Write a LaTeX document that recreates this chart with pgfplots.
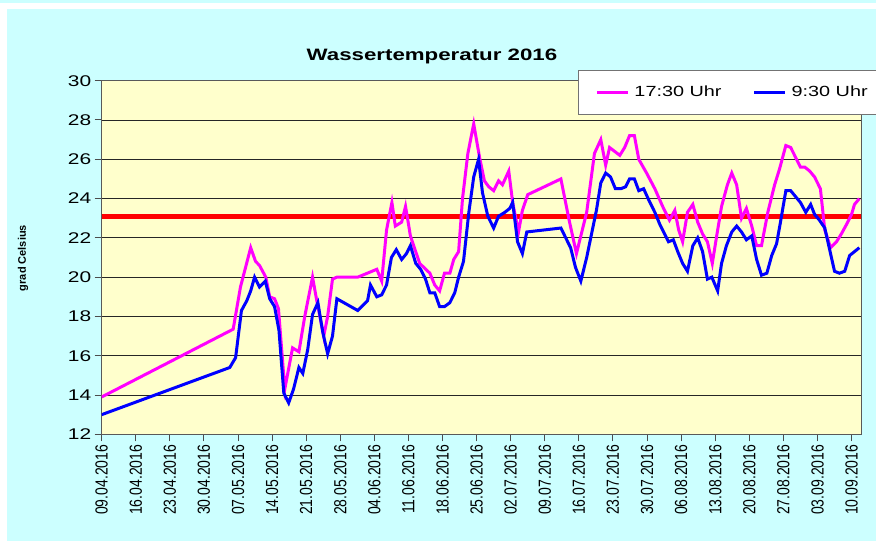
\documentclass[border=0pt]{standalone}
\usepackage{pgfplots}
\pgfplotsset{compat=1.18}
\usepackage{fontspec}
\setmainfont{Liberation Sans}
\definecolor{bgcyan}{HTML}{CCFFFF}
\definecolor{plotyellow}{HTML}{FFFFCC}
\definecolor{pinkline}{HTML}{FF00FF}
\definecolor{blueline}{HTML}{0000FF}
\newcommand\xl[1]{\scalebox{1}[1.25]{#1}}
\newcommand\sx[1]{\scalebox{1.35}[1]{#1}}
\begin{document}
\begin{tikzpicture}[x=1pt,y=1pt]
\useasboundingbox (0,0) rectangle (876,541);
\fill[white] (0,0) rectangle (876,541);
\fill[bgcyan] (7,0) rectangle (876,532);
\fill[bgcyan] (0,538) rectangle (876,541);
\begin{axis}[
  at={(101.7pt,106.7pt)}, anchor=south west,
  scale only axis, width=759.6pt, height=353.6pt,
  xmin=0, xmax=156, ymin=12, ymax=30,
  axis background/.style={fill=plotyellow},
  axis line style={draw=black!65, line width=1pt},
  ytick={12,14,...,30},
  xtick={0,7,...,154},
  xticklabels={\xl{09.04.2016},\xl{16.04.2016},\xl{23.04.2016},\xl{30.04.2016},\xl{07.05.2016},\xl{14.05.2016},\xl{21.05.2016},\xl{28.05.2016},\xl{04.06.2016},\xl{11.06.2016},\xl{18.06.2016},\xl{25.06.2016},\xl{02.07.2016},\xl{09.07.2016},\xl{16.07.2016},\xl{23.07.2016},\xl{30.07.2016},\xl{06.08.2016},\xl{13.08.2016},\xl{20.08.2016},\xl{27.08.2016},\xl{03.09.2016},\xl{10.09.2016}},
  /pgf/number format/assume math mode=true,
  yticklabel={\sx{\pgfmathprintnumber{\tick}}},
  tick align=outside, major tick length=7pt,
  tick style={black!70, line width=1pt},
  xtick pos=bottom, ytick pos=left,
  yticklabel style={font=\fontsize{15.5}{18}\selectfont},
  xticklabel style={rotate=90, anchor=east, font=\fontsize{14}{16}\selectfont},
  ymajorgrids, major grid style={black!85, line width=0.9pt},
  title={\sx{Wassertemperatur 2016}},
  title style={at={(axis description cs:0.4348,1.0529)}, anchor=center, font=\fontsize{16.5}{20}\selectfont\bfseries},
  ylabel={grad Celsius},
  ylabel style={at={(axis description cs:-0.1036,0.4986)}, anchor=center, font=\fontsize{11}{13}\selectfont\bfseries},
  legend columns=2,
  legend image code/.code={\draw[#1, line width=3pt] (0pt,0pt) -- (31pt,0pt);},
  legend style={at={(axis description cs:0.627,1.030)}, anchor=north west,
    draw=black!55, fill=white, line width=1pt, inner xsep=17pt, inner ysep=15pt,
    font=\fontsize{14.7}{18}\selectfont,
    nodes={inner sep=0pt, text height=11pt, text depth=3pt},
    /tikz/every odd column/.append style={column sep=5pt},
    /tikz/every even column/.append style={column sep=31pt}},
  clip=true,
]
\addplot[red, line width=5pt, forget plot] coordinates {(0,23.1) (156,23.1)};
\addplot[pinkline, line width=3pt] coordinates {
(0,13.9) (27,17.35) (28.5,19.5) (30.6,21.5) (31.6,20.8) (32.4,20.6) (33.7,20.0) (34.5,19.0) (35.5,18.9) (36.3,18.4) (37.6,14.3) (39.2,16.4) (40.5,16.2) (41.7,18.0) (43.3,20.0) (44.1,18.9) (45.6,17.0) (46.4,18.0) (47.4,19.9) (48.3,20.0) (52.6,20.0) (56.5,20.4) (57.5,19.8) (58.5,22.4) (59.6,23.8) (60.3,22.6) (61.6,22.8) (62.4,23.6) (63.4,22.1) (65.3,20.7) (67.4,20.2) (68.4,19.6) (69.4,19.3) (70.4,20.2) (71.5,20.2) (72.3,20.9) (73.3,21.3) (74.1,24.0) (75.2,26.3) (76.4,27.8) (77.6,26.1) (78.6,24.9) (79.5,24.6) (80.5,24.4) (81.5,24.9) (82.3,24.7) (83.6,25.4) (84.4,23.8) (85.6,22.3) (86.4,23.4) (87.5,24.2) (94.3,25.0) (96.0,22.9) (97.5,21.2) (99.6,23.3) (101.2,26.3) (102.5,27.0) (103.5,25.7) (104.3,26.6) (106.4,26.2) (107.4,26.6) (108.4,27.2) (109.4,27.2) (110.3,26.0) (111.9,25.3) (113.6,24.5) (115.2,23.6) (116.6,22.9) (117.7,23.4) (118.5,22.4) (119.3,21.8) (120.3,23.3) (121.4,23.7) (122.4,22.8) (123.4,22.2) (124.4,21.8) (125.4,20.7) (126.3,22.1) (127.3,23.6) (128.5,24.7) (129.4,25.3) (130.4,24.7) (131.4,23.0) (132.4,23.5) (133.5,22.6) (134.5,21.6) (135.5,21.6) (136.8,23.3) (138.2,24.7) (139.2,25.5) (140.5,26.7) (141.5,26.6) (142.7,26.0) (143.5,25.6) (144.4,25.6) (145.4,25.4) (146.4,25.1) (147.6,24.5) (148.5,22.4) (149.7,21.5) (150.9,21.8) (151.9,22.2) (153.0,22.7) (154.0,23.2) (154.6,23.7) (155.6,24.0)
};
\addlegendentry{\sx{17:30 Uhr}}
\addplot[blueline, line width=3pt] coordinates {
(0,13.0) (26.3,15.4) (27.5,15.9) (28.7,18.3) (29.8,18.8) (30.6,19.3) (31.4,20.0) (32.4,19.5) (33.6,19.8) (34.5,18.9) (35.5,18.5) (36.4,17.3) (37.4,14.1) (38.4,13.6) (39.4,14.3) (40.5,15.4) (41.3,15.1) (42.3,16.3) (43.3,18.1) (44.4,18.7) (45.4,17.2) (46.4,16.1) (47.4,17.0) (48.3,18.9) (52.6,18.3) (54.6,18.8) (55.2,19.6) (56.5,19.0) (57.5,19.1) (58.5,19.6) (59.5,21.0) (60.5,21.4) (61.6,20.9) (62.6,21.2) (63.4,21.6) (64.5,20.7) (65.5,20.4) (66.5,19.9) (67.4,19.2) (68.4,19.2) (69.4,18.5) (70.4,18.5) (71.5,18.7) (72.5,19.2) (73.3,20.0) (74.3,20.8) (75.4,23.3) (76.4,25.1) (77.4,26.0) (78.2,24.3) (79.3,23.1) (80.5,22.5) (81.5,23.1) (82.8,23.3) (83.8,23.5) (84.4,23.8) (85.4,21.8) (86.4,21.2) (87.3,22.3) (94.3,22.5) (96.3,21.5) (97.3,20.5) (98.4,19.8) (99.6,21.0) (100.6,22.2) (101.6,23.4) (102.5,24.8) (103.5,25.3) (104.5,25.1) (105.5,24.5) (106.6,24.5) (107.6,24.6) (108.4,25.0) (109.4,25.0) (110.3,24.4) (111.3,24.5) (112.4,23.9) (113.6,23.3) (114.6,22.7) (115.6,22.2) (116.4,21.8) (117.4,21.9) (118.3,21.3) (119.3,20.7) (120.3,20.3) (121.4,21.6) (122.4,22.0) (123.4,21.3) (124.4,19.9) (125.3,20.0) (126.5,19.3) (127.3,20.7) (128.3,21.6) (129.4,22.3) (130.4,22.6) (131.4,22.3) (132.4,21.9) (133.5,22.1) (134.5,20.9) (135.5,20.1) (136.6,20.2) (137.6,21.1) (138.6,21.7) (139.4,22.8) (140.5,24.4) (141.5,24.4) (142.5,24.1) (143.5,23.8) (144.6,23.3) (145.6,23.7) (146.4,23.2) (147.4,22.9) (148.5,22.5) (149.5,21.4) (150.5,20.3) (151.5,20.2) (152.6,20.3) (153.6,21.1) (154.6,21.3) (155.6,21.5)
};
\addlegendentry{\sx{9:30 Uhr}}
\end{axis}
\end{tikzpicture}
\end{document}
